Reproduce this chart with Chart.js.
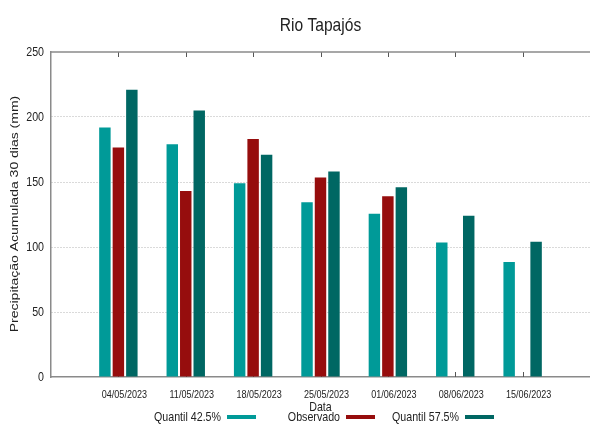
<!DOCTYPE html>
<html>
<head>
<meta charset="utf-8">
<script src="https://cdn.jsdelivr.net/npm/chart.js@4/dist/chart.umd.min.js"></script>
<style>
  html, body { margin: 0; padding: 0; background: #fff; }
  #wrap { width: 590px; height: 425px; }
</style>
</head>
<body>
<div id="wrap"><canvas id="chart"></canvas></div>
<script>
const chartTitle = 'Rio Tapajós';
const yTitle = 'Precipitação Acumulada 30 dias (mm)';
const xTitle = 'Data';
const categories = ['04/05/2023', '11/05/2023', '18/05/2023', '25/05/2023', '01/06/2023', '08/06/2023', '15/06/2023'];
const quantil425 = [192, 179, 149, 134.5, 125.5, 103.5, 88.5];
const observado = [176.5, 143, 183, 153.5, 139, null, null];
const quantil575 = [221, 205, 171, 158, 146, 124, 104];
const yMax = 250;
const yStep = 50;

const axisGray = '#8a8a8a';
const textColor = '#222';
const squeeze = 0.82; // the original is horizontally squashed

function points(values) {
    return values.map((v, i) => ({ x: i, y: v }));
}

// text drawn with the same horizontal squash as the reference
function narrowText(ctx, text, x, y, size, align) {
    ctx.save();
    ctx.translate(x, y);
    ctx.scale(squeeze, 1);
    ctx.font = size + 'px "Liberation Sans", Arial, sans-serif';
    ctx.textAlign = align;
    ctx.textBaseline = 'middle';
    ctx.fillStyle = textColor;
    ctx.fillText(text, 0, 0);
    ctx.restore();
}

const decorations = {
    id: 'decorations',
    beforeDatasetsDraw(chart) {
        const { ctx, chartArea: a, scales: { x } } = chart;
        ctx.save();
        ctx.strokeStyle = '#555';
        ctx.lineWidth = 1;
        for (let i = 0; i < categories.length; i++) {
            const px = Math.round(x.getPixelForValue(i)) + 0.5;
            ctx.beginPath();
            ctx.moveTo(px, a.top);
            ctx.lineTo(px, a.top + 5);
            ctx.moveTo(px, a.bottom);
            ctx.lineTo(px, a.bottom - 5);
            ctx.stroke();
        }
        ctx.restore();
    },
    afterDraw(chart) {
        const { ctx, chartArea: a, scales: { x, y } } = chart;
        const midX = (a.left + a.right) / 2;
        ctx.save();
        ctx.strokeStyle = axisGray;
        ctx.lineWidth = 1.5;
        ctx.beginPath();
        ctx.moveTo(a.left, a.top);
        ctx.lineTo(a.right, a.top);
        ctx.stroke();
        ctx.restore();

        // tick labels
        categories.forEach((c, i) => narrowText(ctx, c, x.getPixelForValue(i) + 6, 395, 11, 'center'));
        y.ticks.forEach((t) => narrowText(ctx, String(t.value), a.left - 7, y.getPixelForValue(t.value), 13, 'right'));

        narrowText(ctx, chartTitle, midX, 26, 19, 'center');
        narrowText(ctx, xTitle, midX, 407, 13, 'center');

        // y title
        ctx.save();
        ctx.translate(14.5, 214);
        ctx.scale(squeeze, 1);
        ctx.rotate(-Math.PI / 2);
        ctx.font = '14px "Liberation Sans", Arial, sans-serif';
        ctx.textAlign = 'center';
        ctx.textBaseline = 'middle';
        ctx.fillStyle = textColor;
        ctx.fillText(yTitle, 0, 0);
        ctx.restore();

        // legend: text then sample
        chart.data.datasets.forEach((ds, i) => {
            const sx = 227 + i * 119;
            narrowText(ctx, ds.label, sx - 6, 417, 13, 'right');
            ctx.fillStyle = ds.backgroundColor;
            ctx.fillRect(sx, 415, 29, 4);
        });
    }
};

new Chart(document.getElementById('chart'), {
    type: 'bar',
    data: {
        datasets: [
            { label: 'Quantil 42.5%', data: points(quantil425), backgroundColor: '#009a98' },
            { label: 'Observado', data: points(observado), backgroundColor: '#960d0d' },
            { label: 'Quantil 57.5%', data: points(quantil575), backgroundColor: '#006763' }
        ]
    },
    options: {
        responsive: true,
        maintainAspectRatio: false,
        animation: false,
        categoryPercentage: 0.6,
        barPercentage: 0.85,
        layout: { padding: { top: 52, left: 0, right: 0, bottom: 0 } },
        plugins: {
            legend: { display: false },
            title: { display: false },
            tooltip: { enabled: false }
        },
        scales: {
            x: {
                type: 'linear',
                min: -1,
                max: categories.length,
                offset: false,
                afterFit: (s) => { s.height = 48; },
                grid: { display: false, drawTicks: false, offset: false },
                border: { display: true, color: axisGray, width: 1.5 },
                ticks: { stepSize: 1, display: false, padding: 0 }
            },
            y: {
                min: 0,
                max: yMax,
                afterFit: (s) => { s.width = 51; },
                grid: {
                    drawTicks: false,
                    lineWidth: 1,
                    color: (c) => (c.tick.value === 0 || c.tick.value === yMax) ? 'rgba(0,0,0,0)' : '#b4b4b4'
                },
                border: { display: true, color: axisGray, width: 1.5, dash: [1, 2] },
                ticks: { stepSize: yStep, display: false, padding: 0 }
            }
        }
    },
    plugins: [decorations]
});
</script>
</body>
</html>
